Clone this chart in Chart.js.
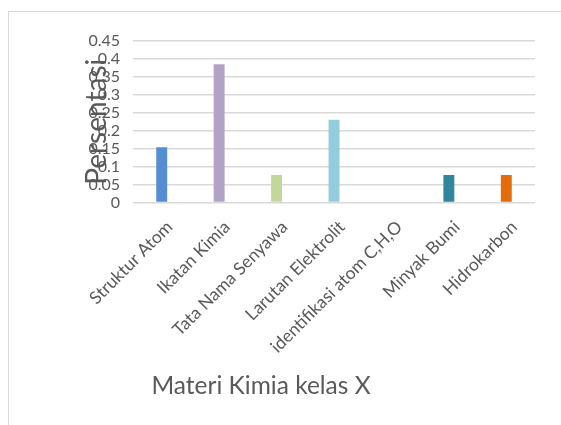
<!DOCTYPE html>
<html>
<head>
<meta charset="utf-8">
<script src="https://cdn.jsdelivr.net/npm/chart.js@4.4.1/dist/chart.umd.min.js"></script>
<style>
  html, body { margin: 0; padding: 0; background: #fff; }
  #frame {
    position: absolute; left: 8px; top: 11px; width: 600px; height: 450px;
    border-left: 1px solid #d9d9d9; border-top: 1px solid #d9d9d9;
  }
  #wrap { position: absolute; left: 0; top: 0; width: 561px; height: 425px; }
</style>
</head>
<body>
<div id="frame"></div>
<div id="wrap"><canvas id="myChart" width="561" height="425"></canvas></div>
<script>
// Topics and share of questions per topic
const topics = ['Struktur Atom', 'Ikatan Kimia', 'Tata Nama Senyawa', 'Larutan Elektrolit',
  'identifikasi atom C,H,O', 'Minyak Bumi', 'Hidrokarbon'];
const shares = [0.154, 0.385, 0.077, 0.231, 0, 0.077, 0.077];
const barColors = ['#548dd4', '#b3a2c7', '#c3d69b', '#93cddd', '#8eb4e3', '#31859c', '#e46c0a'];
const yTicks = [0, 0.05, 0.1, 0.15, 0.2, 0.25, 0.3, 0.35, 0.4, 0.45];
const yTickLabels = ['0', '0.05', '0.1', '0.15', '0.2', '0.25', '0.3', '0.35', '0.4', '0.45'];

const textColor = '#595959';
const font = 'Lato';

window.addEventListener('DOMContentLoaded', event => {
    const ctx = document.getElementById('myChart').getContext('2d');
    new Chart(ctx, {
        type: 'bar',
        data: {
            labels: topics,
            datasets: [{
                data: shares,
                backgroundColor: barColors,
                barPercentage: 0.19,
                categoryPercentage: 1
            }]
        },
        options: {
            responsive: false,
            animation: false,
            // negative left padding pulls the bottom title a little left of the plot centre
            layout: { padding: { top: 41, right: 26, bottom: 24, left: -13 } },
            plugins: {
                legend: { display: false },
                tooltip: { enabled: false },
                title: {
                    display: true,
                    position: 'bottom',
                    text: 'Materi Kimia kelas X',
                    color: textColor,
                    font: { family: font, size: 24.5, weight: 'normal' },
                    padding: 0
                }
            },
            scales: {
                x: {
                    grid: { display: false },
                    border: { display: false },
                    ticks: {
                        autoSkip: false,
                        minRotation: 45,
                        maxRotation: 45,
                        labelOffset: 8,
                        padding: 6,
                        color: textColor,
                        font: { family: font, size: 17.5 }
                    },
                    afterFit: scale => { scale.height = 169; }
                },
                y: {
                    min: 0,
                    max: 0.45,
                    afterBuildTicks: scale => { scale.ticks = yTicks.map(v => ({ value: v })); },
                    grid: { color: '#d9d9d9', lineWidth: 1.5, drawTicks: false },
                    border: { display: false },
                    ticks: {
                        autoSkip: false,
                        padding: 13,
                        color: textColor,
                        font: { family: font, size: 16 },
                        callback: (v, i) => yTickLabels[i]
                    },
                    title: {
                        display: true,
                        text: 'Persentasi',
                        color: textColor,
                        font: { family: font, size: 28 },
                        padding: { top: 93, bottom: 0 }
                    },
                    afterFit: scale => { scale.width = 146; }
                }
            }
        }
    });
});
</script>
</body>
</html>
